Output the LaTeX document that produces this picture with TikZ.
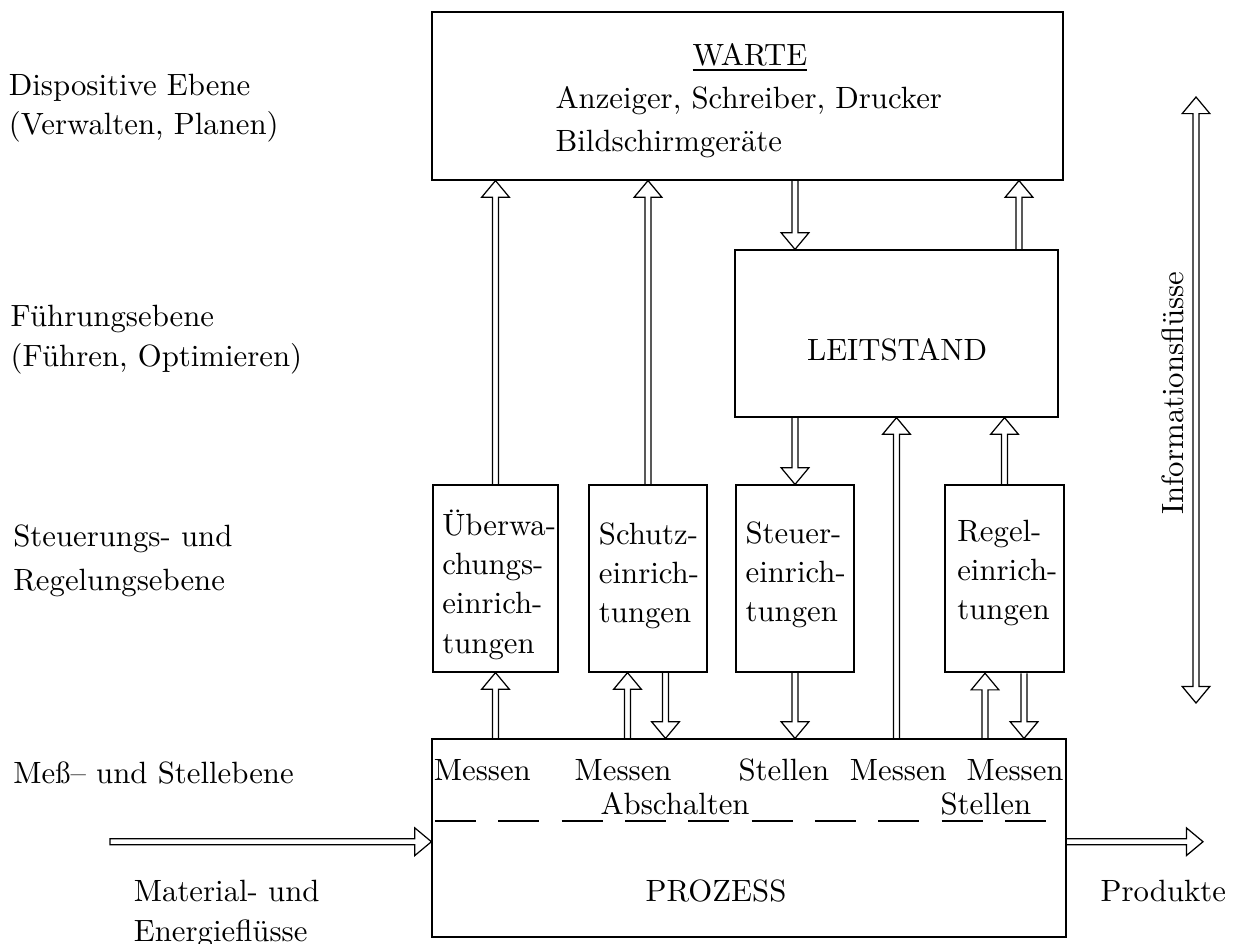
\documentclass[tikz,border=0pt]{standalone}
\usepackage{fontspec}
\usetikzlibrary{calc,fit}

\begin{document}
\begin{tikzpicture}[x=0.325pt,y=-0.325pt,
  box/.style={draw, line width=0.4pt, inner sep=0pt},
  thickbox/.style={box, line width=0.8pt},
  % multi-line labels are placed by the baseline of their last line
  lbl/.style={inner sep=0pt, anchor=base west, align=left},
  ctr/.style={inner sep=0pt, anchor=base},
  % hollow arrow: double shaft with an open triangular head
  flow/.style={draw, line width=0.4pt,
    to path={let \p1=(\tikztostart), \p2=(\tikztotarget),
                 \p3=($(\p2)!5.4pt!(\p1)$) in
      ($(\p1)!0.975pt!90:(\p2)$) -- ($(\p3)!0.975pt!90:(\p2)$)
      -- ($(\p3)!4.5pt!90:(\p2)$) -- (\p2)
      -- ($(\p3)!4.5pt!-90:(\p2)$) -- ($(\p3)!0.975pt!-90:(\p2)$)
      -- ($(\p1)!0.975pt!-90:(\p2)$)}},
  flowclosed/.style={draw, line width=0.4pt,
    to path={let \p1=(\tikztostart), \p2=(\tikztotarget),
                 \p3=($(\p2)!5.4pt!(\p1)$) in
      ($(\p1)!0.975pt!90:(\p2)$) -- ($(\p3)!0.975pt!90:(\p2)$)
      -- ($(\p3)!4.5pt!90:(\p2)$) -- (\p2)
      -- ($(\p3)!4.5pt!-90:(\p2)$) -- ($(\p3)!0.975pt!-90:(\p2)$)
      -- ($(\p1)!0.975pt!-90:(\p2)$) -- cycle}},
  flowboth/.style={draw, line width=0.4pt,
    to path={let \p1=(\tikztostart), \p2=(\tikztotarget),
                 \p3=($(\p2)!5.4pt!(\p1)$), \p4=($(\p1)!5.4pt!(\p2)$) in
      (\p1) -- ($(\p4)!4.5pt!90:(\p2)$) -- ($(\p4)!0.975pt!90:(\p2)$)
      -- ($(\p3)!0.975pt!90:(\p2)$) -- ($(\p3)!4.5pt!90:(\p2)$) -- (\p2)
      -- ($(\p3)!4.5pt!-90:(\p2)$) -- ($(\p3)!0.975pt!-90:(\p2)$)
      -- ($(\p4)!0.975pt!-90:(\p2)$) -- ($(\p4)!4.5pt!-90:(\p2)$) -- cycle}},
]
\useasboundingbox (0,0) rectangle (1233,943);

% ---- boxes
\node[box, fit={(432,12) (1063,180)}] (warte) {};
\node[box, fit={(735,250) (1058,417)}] (leit) {};
\node[box, fit={(433,485) (558,672)}] (b1) {};
\node[box, fit={(589,485) (707,672)}] (b2) {};
\node[box, fit={(736,485) (854,672)}] (b3) {};
\node[thickbox, fit={(945,485) (1064,672)}] (b4) {};
\node[box, fit={(432,739) (1066,937)}] (proz) {};

% ---- box texts
\node[ctr] (warteT) at (750,65) {\underline{WARTE}};
\node[lbl, font=\fontsize{10}{14.1}\selectfont] (warteL) at (555,151.7)
  {Anzeiger, Schreiber, Drucker\\Bildschirmgeräte};
\node[ctr] (leitT) at (897,360.7) {LEITSTAND};
\node[lbl, font=\fontsize{10}{12.8}\selectfont] (b1T) at (441.7,653.2)
  {Überwa-\\chungs-\\einrich-\\tungen};
\node[lbl, font=\fontsize{10}{12.8}\selectfont] (b2T) at (598.3,622.8)
  {Schutz-\\einrich-\\tungen};
\node[lbl, font=\fontsize{10}{12.8}\selectfont] (b3T) at (745,621.8)
  {Steuer-\\einrich-\\tungen};
\node[lbl, font=\fontsize{10}{12.8}\selectfont] (b4T) at (956.7,619.8)
  {Regel-\\einrich-\\tungen};
\node[ctr] (prozT) at (716,901.7) {PROZESS};

% ---- signals inside the process box
\node[lbl] (m1) at (433.3,780) {Messen};
\node[lbl] (m2) at (574,780) {Messen};
\node[lbl] (s1) at (738,780) {Stellen};
\node[lbl] (m3) at (849.3,780) {Messen};
\node[lbl] (m4) at (966,780) {Messen};
\node[lbl] (ab) at (600,814) {Abschalten};
\node[lbl] (s2) at (940,814) {Stellen};
\foreach \i in {0,...,9}
  \draw[line width=0.4pt] ({435+63.33*\i},821) -- ++(41,0);

% ---- level labels
\node[lbl, font=\fontsize{10}{12.7}\selectfont] (lv1) at (8.3,134.1)
  {Dispositive Ebene\\(Verwalten, Planen)};
\node[lbl, font=\fontsize{10}{13}\selectfont] (lv2) at (10,366)
  {Führungsebene\\(Führen, Optimieren)};
\node[lbl, font=\fontsize{10}{14.3}\selectfont] (lv3) at (12.7,590.7)
  {Steuerungs- und\\Regelungsebene};
\node[lbl] (lv4) at (12.7,783.3) {Meß– und Stellebene};
\node[lbl, font=\fontsize{10}{13}\selectfont] (mat) at (133.3,941.7)
  {Material- und\\Energieflüsse};
\node[lbl] (prod) at (1100,901.7) {Produkte};
\node[inner sep=0pt, rotate=90] (info) at (1172.5,393) {Informationsflüsse};

% ---- connection points
\coordinate (lw) at ($(leit.north)+(122.5,0)$);
\coordinate (b2u) at ($(b2.south)+(-20.5,0)$);
\coordinate (b2d) at ($(b2.south)+(17.5,0)$);
\coordinate (b4u) at ($(b4.south)+(-19.5,0)$);
\coordinate (b4d) at ($(b4.south)+(19.5,0)$);
\coordinate (in) at (110,841.7);
\coordinate (out) at (1203,841.7);
\coordinate (itop) at (1196,97);
\coordinate (ibot) at (1196,703);

% ---- information flows
\draw[flow] (b1.north) to (b1.north |- warte.south);
\draw[flow] (b2.north) to (b2.north |- warte.south);
\draw[flow] (warte.south -| b3.north) to (leit.north -| b3.north);
\draw[flow] (lw) to (lw |- warte.south);
\draw[flow] (leit.south -| b3.north) to (b3.north);
\draw[flow] (proz.north -| leit.south) to (leit.south);
\draw[flow] (b4.north) to (b4.north |- leit.south);
\draw[flow] (proz.north -| b1.south) to (b1.south);
\draw[flow] (b2u |- proz.north) to (b2u);
\draw[flow] (b2d) to (b2d |- proz.north);
\draw[flow] (b3.south) to (b3.south |- proz.north);
\draw[flow] (b4u |- proz.north) to (b4u);
\draw[flow] (b4d) to (b4d |- proz.north);
\draw[flowboth] (itop) to (ibot);

% ---- material and energy flows
\draw[flowclosed] (in) to (in -| proz.west);
\draw[flow] (proz.east |- out) to (out);
\end{tikzpicture}
\end{document}
